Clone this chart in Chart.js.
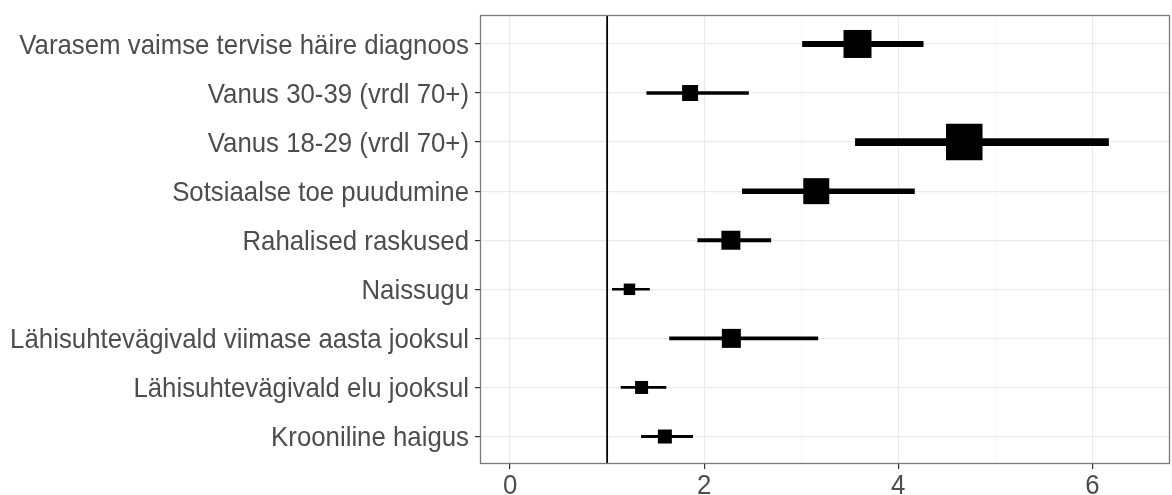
<!DOCTYPE html>
<html>
<head>
<meta charset="utf-8">
<script src="https://cdn.jsdelivr.net/npm/chart.js@4/dist/chart.umd.min.js"></script>
<style>
  html, body { margin: 0; padding: 0; background: #fff; }
  #wrap { width: 1172px; height: 495px; }
</style>
</head>
<body>
<div id="wrap"><canvas id="forest"></canvas></div>
<script>
// Odds ratios with 95% CI, top row first
const labels = [
  'Varasem vaimse tervise häire diagnoos',
  'Vanus 30-39 (vrdl 70+)',
  'Vanus 18-29 (vrdl 70+)',
  'Sotsiaalse toe puudumine',
  'Rahalised raskused',
  'Naissugu',
  'Lähisuhtevägivald viimase aasta jooksul',
  'Lähisuhtevägivald elu jooksul',
  'Krooniline haigus'
];
const estimate = [3.58, 1.855, 4.68, 3.155, 2.275, 1.23, 2.28, 1.355, 1.595];
const ciLow = [3.01, 1.405, 3.555, 2.39, 1.93, 1.05, 1.64, 1.14, 1.35];
const ciHigh = [4.26, 2.46, 6.17, 4.17, 2.69, 1.44, 3.175, 1.61, 1.885];
// relative weight of each estimate (drives square size)
const weights = [28, 16, 36.5, 26, 19, 11.5, 19, 13, 14];
const xTicks = [0, 1, 2, 3, 4, 5, 6];
const xTickLabels = ['0', '', '2', '', '4', '', '6'];
const refValue = 1;

const FONT = '"Liberation Sans", Arial, sans-serif';
const FONT_SIZE = 25.8;
const STRETCH = 1.08;   // text in the original is a bit taller than wide
const TEXT = '#4D4D4D';
const GRID_MAJOR = '#EBEBEB';
const GRID_MINOR = '#F4F4F4';

// one line dataset per row for the confidence intervals
const ciSets = labels.map((_, i) => ({
  type: 'line',
  data: [{ x: ciLow[i], y: i }, { x: ciHigh[i], y: i }],
  borderColor: '#000',
  borderWidth: weights[i] * 0.21,
  borderCapStyle: 'butt',
  pointRadius: 0,
  order: 2
}));

const pointSet = {
  type: 'scatter',
  data: estimate.map((v, i) => ({ x: v, y: i })),
  pointStyle: 'rect',
  pointRadius: ctx => weights[ctx.dataIndex] / Math.SQRT2,
  backgroundColor: '#000',
  borderWidth: 0,
  order: 1
};

function drawText(ctx, text, x, y, align) {
  ctx.save();
  ctx.translate(x, y);
  ctx.scale(1, STRETCH);
  ctx.textAlign = align;
  ctx.textBaseline = 'alphabetic';
  ctx.fillText(text, 0, 0);
  ctx.restore();
}

// reference line at OR = 1, panel border and axis labels
const panelPlugin = {
  id: 'panel',
  beforeDatasetsDraw(chart) {
    const { ctx, chartArea, scales } = chart;
    const px = scales.x.getPixelForValue(refValue);
    ctx.save();
    ctx.strokeStyle = '#000';
    ctx.lineWidth = 1.8;
    ctx.beginPath();
    ctx.moveTo(px, chartArea.top);
    ctx.lineTo(px, chartArea.bottom);
    ctx.stroke();
    ctx.restore();
  },
  afterDraw(chart) {
    const { ctx, chartArea, scales } = chart;
    ctx.save();
    ctx.strokeStyle = '#7A7A7A';
    ctx.lineWidth = 1.3;
    ctx.strokeRect(chartArea.left + 0.5, chartArea.top + 0.5,
      chartArea.right - chartArea.left - 1, chartArea.bottom - chartArea.top - 1);

    ctx.fillStyle = TEXT;
    ctx.font = FONT_SIZE + 'px ' + FONT;
    const capHalf = 0.716 * FONT_SIZE * STRETCH / 2;
    labels.forEach((lab, i) => {
      const py = scales.y.getPixelForValue(i);
      drawText(ctx, lab, chartArea.left - 11, py + capHalf, 'right');
    });
    xTicks.forEach((v, i) => {
      if (!xTickLabels[i]) return;
      const px = scales.x.getPixelForValue(v);
      drawText(ctx, xTickLabels[i], px, chartArea.bottom + 30, 'center');
    });
    ctx.restore();
  }
};

new Chart(document.getElementById('forest'), {
  data: { datasets: [...ciSets, pointSet] },
  plugins: [panelPlugin],
  options: {
    responsive: true,
    maintainAspectRatio: false,
    animation: false,
    layout: { autoPadding: false, padding: { top: 15, right: 2, left: 0, bottom: 0 } },
    plugins: { legend: { display: false }, tooltip: { enabled: false } },
    scales: {
      x: {
        type: 'linear',
        min: -0.31,
        max: 6.8,
        afterBuildTicks: s => { s.ticks = xTicks.map(v => ({ value: v })); },
        afterFit: s => { s.height = 31; s.paddingLeft = 0; s.paddingRight = 0; },
        border: { display: false },
        grid: {
          color: c => (c.tick && c.tick.value % 2 === 0) ? GRID_MAJOR : GRID_MINOR,
          lineWidth: c => (c.tick && c.tick.value % 2 === 0) ? 1.2 : 0.7,
          tickColor: c => (c.tick && c.tick.value % 2 === 0) ? '#333333' : 'rgba(0,0,0,0)',
          tickLength: 5,
          tickWidth: 1.2
        },
        ticks: { display: false }
      },
      y: {
        type: 'linear',
        reverse: true,
        min: -0.59,
        max: 8.56,
        afterBuildTicks: s => { s.ticks = labels.map((_, i) => ({ value: i })); },
        afterFit: s => { s.width = 480; s.paddingTop = 0; s.paddingBottom = 0; },
        border: { display: false },
        grid: {
          color: GRID_MAJOR,
          lineWidth: 1.2,
          tickColor: '#333333',
          tickLength: 5,
          tickWidth: 1.2
        },
        ticks: { display: false }
      }
    }
  }
});
</script>
</body>
</html>
